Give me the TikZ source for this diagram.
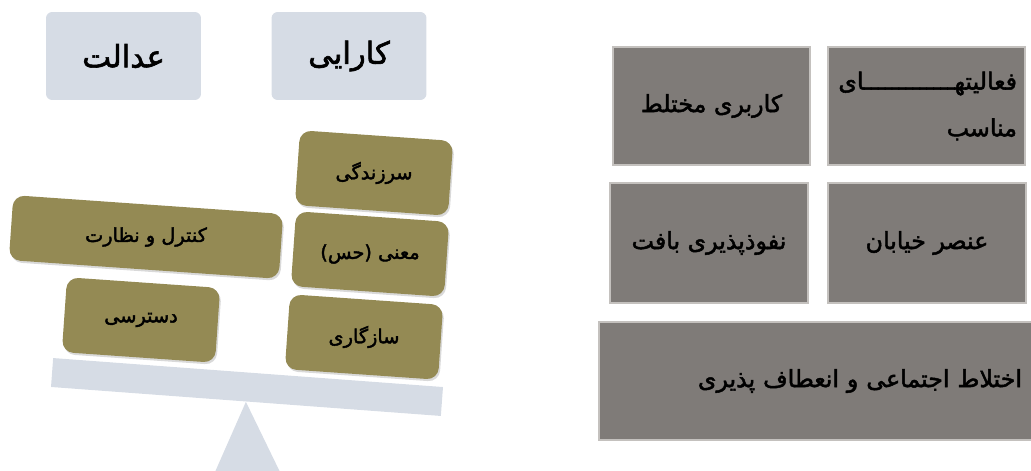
\documentclass[tikz,border=0pt]{standalone}
\usepackage{fontspec}
\usepackage{tikz}
\usetikzlibrary{shadows}
\TeXXeTstate=1
\newfontfamily\arabicfont[Script=Arabic,FakeBold=2]{DejaVu Sans}
\newcommand{\fatext}[1]{\beginR #1\endR}
\definecolor{pale}{HTML}{D6DCE5}
\definecolor{brickfill}{HTML}{948A54}
\definecolor{slate}{HTML}{7F7B78}
\definecolor{rim}{HTML}{C4C1BE}
\tikzset{
  pan/.style={fill=pale, rounded corners=3.5pt, minimum width=3.1cm, minimum height=1.76cm,
    font=\arabicfont\fontsize{17.5}{21}\selectfont},
  brick/.style={fill=brickfill, rounded corners=6.5pt, rotate=-4, minimum height=1.5cm,
    drop shadow={opacity=0.3, shadow xshift=0.8pt, shadow yshift=-1.2pt}},
  bricklab/.style={font=\arabicfont\fontsize{11}{13}\selectfont},
  tile/.style={fill=slate, draw=rim, line width=0.9pt, minimum height=2.36cm,
    font=\arabicfont\fontsize{13.5}{26.5}\selectfont},
  beamst/.style={fill=pale, rotate=-4.25, minimum width=7.82cm, minimum height=0.58cm},
}
\begin{document}
\begin{tikzpicture}[x=0.02cm,y=-0.02cm]
  \useasboundingbox (0,0) rectangle (1031,470);
  \clip (0,0) rectangle (1031,470);
  % the balance
  \node[beamst] (beam) at (247,387) {};
  \fill[pale] (beam.south) -- (215,472) -- (280,472) -- cycle;
  \node[pan] (adalat) at (123.5,56) {\fatext{عدالت}};
  \node[pan] (karayi) at (349,56) {\fatext{کارایی}};
  % weights on the beam
  \node[brick, minimum width=3.07cm] (sarzandegi) at (374,173) {};
  \node[brick, minimum width=3.07cm] (mani) at (370,254) {};
  \node[brick, minimum width=3.07cm] (sazegari) at (364,337) {};
  \node[brick, minimum width=5.41cm, minimum height=1.3cm] (kontrol) at (146,237) {};
  \node[brick, minimum width=3.07cm] (dastresi) at (141,320) {};
  \node[bricklab] (sarzandegi-t) at (sarzandegi) {\fatext{سرزندگی}};
  \node[bricklab] (mani-t) at (mani) {\fatext{معنی (حس)}};
  \node[bricklab] (sazegari-t) at (sazegari) {\fatext{سازگاری}};
  \node[bricklab] (kontrol-t) at (kontrol) {\fatext{کنترل و نظارت}};
  \node[bricklab] (dastresi-t) at (dastresi) {\fatext{دسترسی}};
  % criteria
  \node[tile, minimum width=3.94cm] (karbari) at (711.5,106) {\fatext{کاربری مختلط}};
  \node[tile, minimum width=3.94cm, align=right, text width=3.62cm] (faaliat) at (926.5,106)
    {\fatext{فعالیتهـــــــــــــای}\\\fatext{مناسب}};
  \node[tile, minimum width=3.96cm, minimum height=2.4cm] (nofuz) at (709,243) {\fatext{نفوذپذیری بافت}};
  \node[tile, minimum width=3.96cm, minimum height=2.4cm] (onsor) at (927,243) {\fatext{عنصر خیابان}};
  \node[tile, minimum width=8.82cm, align=right, text width=8.1cm] (ekhtelat) at (819.5,381)
    {\fatext{اختلاط اجتماعی و انعطاف پذیری}};
\end{tikzpicture}
\end{document}
